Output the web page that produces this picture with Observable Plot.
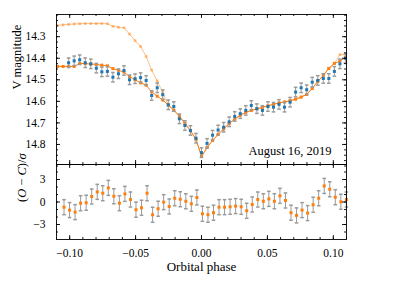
<!DOCTYPE html>
<html><head><meta charset="utf-8">
<script src="https://cdn.jsdelivr.net/npm/d3@7"></script>
<script src="https://cdn.jsdelivr.net/npm/@observablehq/plot@0.6"></script>
<style>
body{margin:0;background:#fff;}
#c{position:relative;width:399px;height:299px;background:#fff;}
#c svg{position:absolute;left:0;overflow:visible;background:transparent;}
#c svg, #c svg text{font-family:"Liberation Serif","DejaVu Serif",serif !important;}
</style></head><body><div id="c"></div>
<script>
// ---- data ----
const modelPhase = [-0.1092,-0.1050,-0.1008,-0.0966,-0.0924,-0.0882,-0.0840,-0.0798,-0.0756,-0.0714,-0.0672,-0.0630,-0.0588,-0.0546,-0.0504,-0.0462,-0.0420,-0.0378,-0.0336,-0.0294,-0.0252,-0.0210,-0.0168,-0.0126,-0.0084,-0.0042,0,0.0042,0.0084,0.0126,0.0168,0.0210,0.0252,0.0294,0.0336,0.0378,0.0420,0.0462,0.0504,0.0546,0.0588,0.0630,0.0672,0.0714,0.0756,0.0798,0.0840,0.0882,0.0924,0.0966,0.1008,0.1050,0.1092];
const modelBright = [14.438,14.438,14.438,14.438,14.424,14.425,14.427,14.429,14.432,14.435,14.448,14.456,14.464,14.485,14.500,14.514,14.525,14.556,14.576,14.594,14.617,14.641,14.669,14.702,14.736,14.776,14.856,14.814,14.781,14.754,14.728,14.703,14.682,14.665,14.651,14.642,14.635,14.628,14.621,14.614,14.607,14.603,14.597,14.590,14.580,14.568,14.540,14.508,14.480,14.447,14.424,14.413,14.397];
const modelLight = [14.248,14.245,14.243,14.241,14.240,14.239,14.239,14.239,14.239,14.240,14.252,14.256,14.259,14.288,14.318,14.345,14.392,14.455,14.505,14.560,14.617,14.641,14.669,14.702,14.736,14.776,14.856,14.814,14.781,14.754,14.728,14.703,14.682,14.665,14.651,14.642,14.635,14.628,14.621,14.614,14.607,14.603,14.597,14.590,14.580,14.568,14.540,14.508,14.480,14.447,14.424,14.383,14.383];
const obsPhase = [-0.1008,-0.0966,-0.0924,-0.0882,-0.0840,-0.0798,-0.0756,-0.0714,-0.0672,-0.0630,-0.0588,-0.0546,-0.0504,-0.0462,-0.0420,-0.0378,-0.0336,-0.0294,-0.0252,-0.0210,-0.0168,-0.0126,-0.0084,-0.0042,0,0.0042,0.0084,0.0126,0.0168,0.0210,0.0252,0.0294,0.0336,0.0378,0.0420,0.0462,0.0504,0.0546,0.0588,0.0630,0.0672,0.0714,0.0756,0.0798,0.0840,0.0882,0.0924,0.0966,0.1008,0.1050,0.1092];
const obsMag = [14.421,14.412,14.407,14.421,14.426,14.446,14.463,14.461,14.488,14.472,14.457,14.500,14.495,14.490,14.503,14.573,14.537,14.569,14.616,14.624,14.681,14.712,14.735,14.771,14.838,14.795,14.757,14.733,14.720,14.695,14.670,14.657,14.642,14.619,14.634,14.642,14.624,14.627,14.614,14.627,14.604,14.557,14.537,14.546,14.511,14.503,14.494,14.494,14.461,14.426,14.400];
const obsSigma = 0.022;
const resPhase = [-0.1043,-0.1001,-0.0959,-0.0917,-0.0875,-0.0833,-0.0791,-0.0749,-0.0707,-0.0665,-0.0623,-0.0581,-0.0539,-0.0497,-0.0455,-0.0413,-0.0371,-0.0329,-0.0287,-0.0245,-0.0203,-0.0161,-0.0119,-0.0077,-0.0035,0.0007,0.0049,0.0091,0.0133,0.0175,0.0217,0.0259,0.0301,0.0343,0.0385,0.0427,0.0469,0.0511,0.0553,0.0595,0.0637,0.0679,0.0721,0.0763,0.0805,0.0847,0.0889,0.0931,0.0973,0.1015,0.1057,0.1099];
const resVal = [-0.69,-1.08,-1.35,-0.16,-0.10,0.73,1.35,1.17,1.88,0.77,-0.16,1.08,0.33,-1.03,-0.77,1.17,-1.70,-0.90,-0.02,-0.60,0.50,0.37,0.10,-0.24,0.60,-1.57,-1.70,-1.43,-0.69,-0.69,-0.64,-0.55,-0.64,-1.17,-0.33,0.33,0.10,0.42,0.10,0.82,0.20,-1.43,-1.79,-1.08,-1.48,-0.37,0.50,2.14,1.70,0.64,0.03,0.33];
const resErr = 1;
const xTicks = [-0.10,-0.05,0,0.05,0.10];
const xTickLabels = ["−0.10","−0.05","0.00","0.05","0.10"];
const magTicks = [14.3,14.4,14.5,14.6,14.7,14.8];
const resTicks = [-3,0,3];
const resTickLabels = ["−3","0","3"];
const dateLabel = "August 16, 2019";

// ---- layout ----
const W = 399, mL = 56, mR = 53;
const innerW = W - mL - mR;
const topH = 164, topMT = 14, topInner = topH - topMT;
const botH = 135, botMB = 60, botInner = botH - botMB;
const xDomain = [-0.11, 0.11];
const orange = "#ff7f0e", blue = "#1f77b4", errC = "#9a9a9a";
const font = "Liberation Serif";

const capSymbol = {draw(ctx, size){ const w = Math.sqrt(size/Math.PI); ctx.moveTo(-w,0); ctx.lineTo(w,0); }};

const xMinor = d3.range(-11, 12).map(i => i/100);
const magMinor = d3.range(0, 29).map(i => 14.2 + i*0.025);
const resMinor = d3.range(-4, 5);

function xTickMarks(vals, len, innerH, side){
  return Plot.ruleX(vals, {x: d=>d, stroke:"black", strokeWidth:0.9,
    ...(side==="top" ? {insetBottom: innerH-len} : {insetTop: innerH-len})});
}
function yTickMarks(vals, len, side){
  return Plot.ruleY(vals, {y: d=>d, stroke:"black", strokeWidth:0.9,
    ...(side==="left" ? {insetRight: innerW-len} : {insetLeft: innerW-len})});
}

const model = modelPhase.map((p,i)=>({p, b: modelBright[i], l: modelLight[i]}));
const obs = obsPhase.map((p,i)=>({p, m: obsMag[i]}));
const res = resPhase.map((p,i)=>({p, r: resVal[i]}));

const topPlot = Plot.plot({
  width: W, height: topH,
  marginLeft: mL, marginRight: mR, marginTop: topMT, marginBottom: 0,
  style: {fontFamily: font, fontSize: "11.5px", color: "black"},
  x: {domain: xDomain, axis: null},
  y: {domain: [14.197, 14.893], reverse: true},
  marks: [
    Plot.line(model, {x:"p", y:"l", stroke: orange, strokeOpacity: 0.5, strokeWidth: 1}),
    Plot.dot(model, {x:"p", y:"l", symbol:"square", r:1.5, fill: orange, fillOpacity: 0.5}),
    Plot.line(model, {x:"p", y:"b", stroke: orange, strokeWidth: 1}),
    Plot.dot(model, {x:"p", y:"b", symbol:"square", r:1.7, fill: orange}),
    Plot.ruleX(obs, {x:"p", y1: d=>d.m-obsSigma, y2: d=>d.m+obsSigma, stroke: errC, strokeWidth: 1}),
    Plot.dot(obs, {x:"p", y: d=>d.m-obsSigma, symbol: capSymbol, r: 1.8, stroke: errC, fill: "none"}),
    Plot.dot(obs, {x:"p", y: d=>d.m+obsSigma, symbol: capSymbol, r: 1.8, stroke: errC, fill: "none"}),
    Plot.dot(obs, {x:"p", y:"m", symbol:"square", r:1.7, fill: blue}),
    Plot.frame({stroke:"black", strokeWidth: 0.9}),
    xTickMarks(xMinor, 2, topInner, "top"), xTickMarks(xTicks, 4, topInner, "top"),
    xTickMarks(xMinor, 2, topInner, "bottom"), xTickMarks(xTicks, 4, topInner, "bottom"),
    yTickMarks(magMinor, 2, "left"), yTickMarks(magTicks, 4, "left"),
    yTickMarks(magMinor, 2, "right"), yTickMarks(magTicks, 4, "right"),
    Plot.axisY({ticks: magTicks, tickSize: 0, tickPadding: 11, tickFormat: d=>d.toFixed(1), label: null, fill: "black", fontFamily: font, fontSize: 11.5}),
    Plot.text([dateLabel], {text: d=>d, frameAnchor: "bottom-right", textAnchor: "end", lineAnchor: "bottom", dx: -15, dy: -10, fontSize: 12.5, fontFamily: font, fill: "black"}),
    Plot.text(["V magnitude"], {text: d=>d, frameAnchor: "left", rotate: -90, dx: -40, fontSize: 12.5, fontFamily: font, fill: "black"})
  ]
});

const botPlot = Plot.plot({
  width: W, height: botH,
  marginLeft: mL, marginRight: mR, marginTop: 0, marginBottom: botMB,
  style: {fontFamily: font, fontSize: "11.5px", color: "black"},
  x: {domain: xDomain},
  y: {domain: [-5, 5]},
  marks: [
    Plot.ruleX(res, {x:"p", y1: d=>d.r-resErr, y2: d=>d.r+resErr, stroke: errC, strokeWidth: 1}),
    Plot.dot(res, {x:"p", y: d=>d.r-resErr, symbol: capSymbol, r: 1.8, stroke: errC, fill: "none"}),
    Plot.dot(res, {x:"p", y: d=>d.r+resErr, symbol: capSymbol, r: 1.8, stroke: errC, fill: "none"}),
    Plot.dot(res, {x:"p", y:"r", symbol:"square", r:1.7, fill: orange}),
    Plot.frame({stroke:"black", strokeWidth: 0.9}),
    xTickMarks(xMinor, 2, botInner, "top"), xTickMarks(xTicks, 4, botInner, "top"),
    xTickMarks(xMinor, 2, botInner, "bottom"), xTickMarks(xTicks, 4, botInner, "bottom"),
    yTickMarks(resMinor, 2, "left"), yTickMarks(resTicks, 4, "left"),
    yTickMarks(resMinor, 2, "right"), yTickMarks(resTicks, 4, "right"),
    Plot.axisY({ticks: resTicks, tickSize: 0, tickPadding: 11, tickFormat: d=>resTickLabels[resTicks.indexOf(d)], label: null, fill: "black", fontFamily: font, fontSize: 11.5}),
    Plot.axisX({ticks: xTicks, tickSize: 0, tickPadding: 9, tickFormat: d=>xTickLabels[xTicks.indexOf(d)], label: null, fill: "black", fontFamily: font, fontSize: 11.5}),
    Plot.text(["Orbital phase"], {text: d=>d, frameAnchor: "bottom", lineAnchor: "bottom", dy: 31, fontSize: 13, fontFamily: font, fill: "black"}),
    Plot.text(["(O − C)/σ"], {text: d=>d, frameAnchor: "left", rotate: -90, dx: -34.5, fontSize: 12.5, fontFamily: font, fill: "black"})
  ]
});

const c = document.getElementById("c");
topPlot.style.top = "0px";
botPlot.style.top = topH + "px";
c.appendChild(topPlot);
c.appendChild(botPlot);

// italic math symbols in the residual label
d3.select(botPlot).selectAll("text").filter(function(){ return this.textContent === "(O − C)/σ"; })
  .html('(<tspan font-style="italic">O</tspan> − <tspan font-style="italic">C</tspan>)/<tspan font-style="italic">σ</tspan>');
</script></body></html>
